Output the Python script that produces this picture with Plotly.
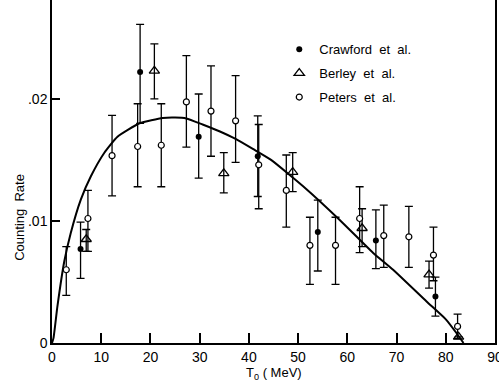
import plotly.graph_objects as go

# Crawford et al. (filled circles)
crawford_x = [5.8, 17.9, 29.8, 41.8, 54.0, 65.8, 77.9]
crawford_y = [0.0077, 0.0222, 0.0169, 0.0153, 0.0091, 0.0084, 0.0038]
crawford_up = [0.0022, 0.0039, 0.0035, 0.0033, 0.0026, 0.0025, 0.0016]
crawford_dn = [0.0024, 0.0042, 0.0034, 0.0033, 0.0032, 0.0023, 0.0016]

# Berley et al. (open triangles)
berley_x = [6.95, 20.8, 34.9, 48.9, 63.0, 76.6, 82.6]
berley_y = [0.0085, 0.0223, 0.0139, 0.0140, 0.0094, 0.0056, 0.0005]
berley_up = [0.0008, 0.0022, 0.0017, 0.0016, 0.0016, 0.0011, 0.0]
berley_dn = [0.0010, 0.0023, 0.0016, 0.0016, 0.0015, 0.0011, 0.0]

# Peters et al. (open circles)
peters_x = [2.9, 7.3, 12.2, 17.4, 22.2, 27.3, 32.3, 37.3, 42.0, 47.6,
            52.4, 57.6, 62.5, 67.4, 72.5, 77.5, 82.4]
peters_y = [0.0060, 0.0102, 0.01535, 0.0161, 0.0162, 0.01975, 0.0190, 0.0182,
            0.0146, 0.0125, 0.0080, 0.0080, 0.0102, 0.0088, 0.0087, 0.0072, 0.00136]
peters_up = [0.0019, 0.0023, 0.0033, 0.0035, 0.0034, 0.0038, 0.0037, 0.0037,
             0.0033, 0.0029, 0.0023, 0.0023, 0.0026, 0.0025, 0.0025, 0.0023, 0.0010]
peters_dn = [0.0021, 0.0027, 0.0033, 0.0033, 0.0034, 0.0037, 0.0037, 0.0034,
             0.0036, 0.0030, 0.0032, 0.0032, 0.0028, 0.0026, 0.0025, 0.0021, 0.0010]

# Theoretical curve
curve_x = [0, 0.3, 1.1, 2.5, 3.8, 5.85, 7.9, 10.6, 13.3, 17.8, 22.5, 25.0, 27.3,
           30.6, 34.0, 37.4, 40.8, 44.5, 51.7, 58.4, 65.2, 69.3, 76.1, 80.1, 82.2, 83.6]
curve_y = [0, 0.0004, 0.0030, 0.0067, 0.0090, 0.01175, 0.01366, 0.01557, 0.0169,
           0.0180, 0.01844, 0.01848, 0.01840, 0.0179, 0.01735, 0.0167, 0.0159,
           0.0150, 0.0126, 0.0101, 0.0074, 0.0060, 0.0034, 0.0019, 0.0008, 0]

x_ticks = [0, 10, 20, 30, 40, 50, 60, 70, 80, 90]
y_ticks = [0, 0.01, 0.02]
y_tick_labels = ["0", ".01", ".02"]

FONT = "Liberation Sans"

def err(up, dn):
    return dict(type="data", symmetric=False, array=up, arrayminus=dn,
                color="black", thickness=1.3, width=4)

fig = go.Figure()
fig.add_trace(go.Scatter(x=curve_x, y=curve_y, mode="lines",
                         line=dict(color="black", width=2, shape="spline", smoothing=0.5),
                         showlegend=False, hoverinfo="skip"))
fig.add_trace(go.Scatter(x=crawford_x, y=crawford_y, mode="markers", name="Crawford  et  al.",
                         legendgroup="a",
                         marker=dict(symbol="circle", size=6, color="black"),
                         error_y=err(crawford_up, crawford_dn)))
fig.add_trace(go.Scatter(x=berley_x, y=berley_y, mode="markers", name="Berley  et  al.",
                         legendgroup="b",
                         marker=dict(symbol="triangle-up-open", size=9, color="black",
                                     line=dict(width=1.3, color="black")),
                         error_y=err(berley_up, berley_dn)))
fig.add_trace(go.Scatter(x=peters_x, y=peters_y, mode="markers", name="Peters  et  al.",
                         legendgroup="c",
                         marker=dict(symbol="circle", size=6, color="white",
                                     line=dict(width=1.2, color="black")),
                         error_y=err(peters_up, peters_dn)))

fig.update_layout(
    width=499, height=385,
    margin=dict(l=52, r=4, t=0, b=42, autoexpand=False),
    paper_bgcolor="white", plot_bgcolor="white",
    font=dict(family=FONT, size=13, color="black"),
    showlegend=True,
    legend=dict(x=0.513, y=0.90, xanchor="left", yanchor="top",
                bgcolor="rgba(0,0,0,0)", font=dict(size=13, family=FONT),
                traceorder="grouped", tracegroupgap=4, itemwidth=30),
    xaxis=dict(range=[0, 90], tickvals=x_ticks, ticks="inside", ticklen=10,
               tickwidth=1.5, tickcolor="black", showline=True, linecolor="black",
               linewidth=1.5, showgrid=False, zeroline=False, automargin=False,
               ticklabeloverflow="allow", tickfont=dict(size=14)),
    yaxis=dict(range=[0, 0.0281], tickvals=y_ticks, ticktext=y_tick_labels,
               ticks="inside", ticklen=8, tickwidth=1.5, tickcolor="black",
               showline=True, mirror=True, linecolor="black", linewidth=1.5,
               showgrid=False, zeroline=False, automargin=False,
               tickfont=dict(size=14)),
    annotations=[
        dict(text="T<sub>0</sub> ( MeV)", xref="paper", yref="paper", x=0.5, y=0,
             yshift=-20, xanchor="center", yanchor="top", showarrow=False,
             font=dict(size=13)),
        dict(text="Counting  Rate", xref="paper", yref="paper", x=0, y=0.365,
             xshift=-32, xanchor="center", yanchor="middle", showarrow=False,
             textangle=-90, font=dict(size=13)),
    ],
)

fig.write_html("out.html", config={"displayModeBar": False},
               post_script="document.body.style.margin='0';")
